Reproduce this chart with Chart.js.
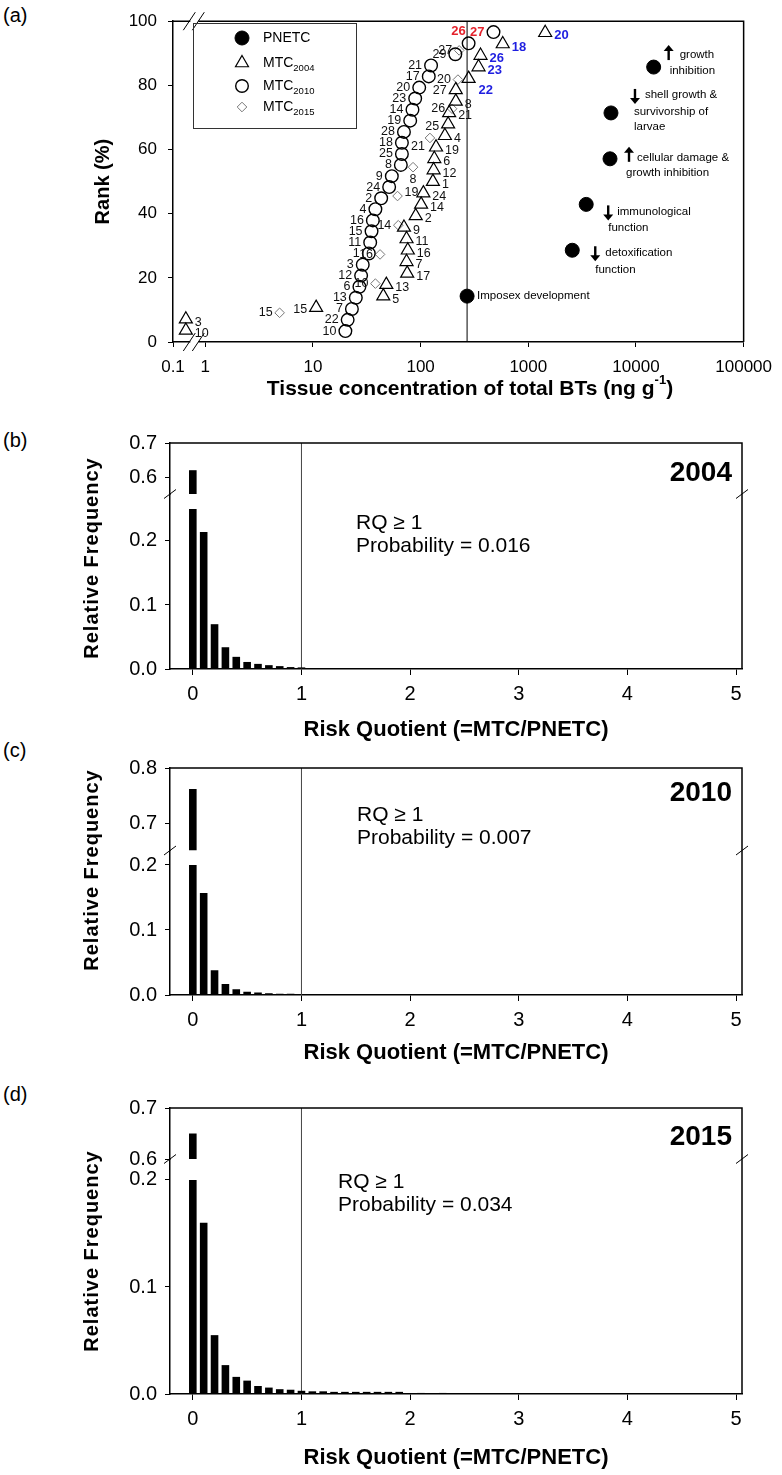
<!DOCTYPE html>
<html>
<head>
<meta charset="utf-8">
<script src="https://cdn.jsdelivr.net/npm/chart.js@4.4.0/dist/chart.umd.min.js"></script>
<style>
  body { margin: 0; background: #fff; }
  #wrap { position: relative; width: 782px; height: 1475px; }
  canvas { position: absolute; left: 0; }
  .tag { position: absolute; left: 3px; font: 20px "Liberation Sans", Arial, sans-serif; line-height: 20px; }
</style>
</head>
<body>
<div id="wrap">
  <div class="tag" style="top:5px">(a)</div>
  <div class="tag" style="top:430px">(b)</div>
  <div class="tag" style="top:740px">(c)</div>
  <div class="tag" style="top:1084px">(d)</div>
  <canvas id="cA" width="782" height="400" style="top:0px"></canvas>
  <canvas id="cB" width="782" height="340" style="top:405px"></canvas>
  <canvas id="cC" width="782" height="330" style="top:745px"></canvas>
  <canvas id="cD" width="782" height="400" style="top:1075px"></canvas>
</div>
<script>
// ***************************************************
// Data : panel (a) species sensitivity / site ranks
// ***************************************************

var PNETC_MIN = 270;

var pnetcConc = [270, 2560, 3450, 5740, 5860, 14600];
var pnetcRank = [14.3, 28.6, 42.9, 57.1, 71.4, 85.7];
var pnetcEffect = [
  ['Imposex development'],
  ['detoxification', 'function'],
  ['immunological', 'function'],
  ['cellular damage &', 'growth inhibition'],
  ['shell growth &', 'survivorship of', 'larvae'],
  ['growth', 'inhibition']
];
var pnetcTrend = ['', 'down', 'down', 'up', 'down', 'up'];

var conc2004 = [0.25, 0.25, 10.7, 45, 48, 75, 74, 76, 74, 70, 90, 101, 106, 130, 132, 134, 139, 168, 180, 184, 212, 212, 279, 345, 360, 579, 1435];
var rank2004 = [3.6, 7.1, 10.7, 14.3, 17.9, 21.4, 25.0, 28.6, 32.1, 35.7, 39.3, 42.9, 46.4, 50.0, 53.6, 57.1, 60.7, 64.3, 67.9, 71.4, 75.0, 78.6, 82.1, 85.7, 89.3, 92.9, 96.4];
var site2004 = ['10','3','15','5','13','17','7','16','11','9','2','14','24','1','12','6','19','4','25','21','8','27','22','23','26','18','20'];

var conc2010 = [20, 21, 23, 25, 27, 28, 29, 33, 34, 35, 36, 38, 43, 51, 54, 65.5, 67, 67, 70, 80, 84, 89, 97, 119, 125, 210, 279, 475];
var rank2010 = [3.4, 6.9, 10.3, 13.8, 17.2, 20.7, 24.1, 27.6, 31.0, 34.5, 37.9, 41.4, 44.8, 48.3, 51.7, 55.2, 58.6, 62.1, 65.5, 69.0, 72.4, 75.9, 79.3, 82.8, 86.2, 89.7, 93.1, 96.6];
var site2010 = ['10','22','7','13','6','12','3','1','11','15','16','4','2','24','9','8','25','18','28','19','14','23','20','17','21','29','26','27'];

var conc2015 = [4.9, 38, 42, 62, 61, 85, 122, 196, 222, 228];
var rank2015 = [9.1, 18.2, 27.3, 36.4, 45.5, 54.5, 63.6, 72.7, 81.8, 90.9];
var site2015 = ['15','10','16','14','19','8','21','26','20','27'];

var concTicks = [0.1, 1, 10, 100, 1000, 10000, 100000];

// ***************************************************
// Data : panels (b)-(d) risk quotient histograms
// ***************************************************

var bins2004 = [0, 0.1, 0.2, 0.3, 0.4, 0.5, 0.6, 0.7, 0.8, 0.9, 1.0, 1.1, 1.2, 1.3, 1.4];
var freq2004 = [0.62, 0.214, 0.07, 0.034, 0.019, 0.011, 0.008, 0.006, 0.0045, 0.003, 0.0025, 0.0015, 0.0012, 0.001, 0.001];

var bins2010 = [0, 0.1, 0.2, 0.3, 0.4, 0.5, 0.6, 0.7, 0.8, 0.9];
var freq2010 = [0.762, 0.157, 0.038, 0.017, 0.009, 0.005, 0.004, 0.0025, 0.002, 0.002];

var bins2015 = [0, 0.1, 0.2, 0.3, 0.4, 0.5, 0.6, 0.7, 0.8, 0.9, 1.0, 1.1, 1.2, 1.3, 1.4, 1.5, 1.6, 1.7, 1.8, 1.9, 2.0, 2.1, 2.2, 2.3];
var freq2015 = [0.65, 0.16, 0.055, 0.027, 0.016, 0.0125, 0.0075, 0.006, 0.0045, 0.004, 0.003, 0.0025, 0.0025, 0.002, 0.002, 0.002, 0.002, 0.002, 0.002, 0.002, 0, 0.001, 0, 0.001];

var rqTicks = [0, 1, 2, 3, 4, 5];

var FONT = '"Liberation Sans", Arial, sans-serif';

// ***************************************************
// Utility methods
// ***************************************************

// broken log axis: 0.1 .. 1 is squeezed into 0.3 decade
function lg(v) {
  return v < 1 ? -0.3 + 0.3 * (Math.log10(v) + 1) : Math.log10(v);
}

function pts(xs, ys) {
  return xs.map(function(x, i) { return {x: lg(x), y: ys[i]}; });
}

function drawArrow(ctx, x, y, dir) {
  var s = dir === 'up' ? -1 : 1;
  ctx.save();
  ctx.strokeStyle = '#000'; ctx.fillStyle = '#000'; ctx.lineWidth = 2.4;
  ctx.beginPath(); ctx.moveTo(x, y - 7 * s); ctx.lineTo(x, y + 3 * s); ctx.stroke();
  ctx.beginPath(); ctx.moveTo(x - 5, y + 2 * s); ctx.lineTo(x + 5, y + 2 * s); ctx.lineTo(x, y + 8 * s); ctx.closePath(); ctx.fill();
  ctx.restore();
}

function slash(ctx, x, y, w, h) {
  ctx.beginPath(); ctx.moveTo(x - w / 2, y + h / 2); ctx.lineTo(x + w / 2, y - h / 2); ctx.stroke();
}

// ***************************************************
// Panel (a)
// ***************************************************

var labelSpot = {
  tri: {2: [-9, 2, 'right'], 18: [-9, 2, 'right'], 21: [-9, 1, 'right'], 22: [10, 12, 'left']},
  circ: {26: [-3, -12, 'right']},
  dia: {4: [7, -3, 'left'], 5: [0, 12, 'center'], 6: [-5, 9, 'right']}
};
var labelDefault = {tri: [9, 3, 'left'], circ: [-9, 0, 'right'], dia: [-7, 0, 'right']};

var effectLayout = [
  {arrow: null, lines: [[10, 0]]},
  {arrow: [23, 3], lines: [[33, 3], [23, 20]]},
  {arrow: [22, 8], lines: [[31, 7], [22, 23]]},
  {arrow: [19, -4], lines: [[27, -1], [16, 14]]},
  {arrow: [24, -17], lines: [[34, -18], [23, -1], [23, 14]]},
  {arrow: [15, -14], lines: [[26, -12], [16, 4]]}
];

var panelA = {
  id: 'panelA',
  beforeDatasetsDraw: function(chart) {
    var ctx = chart.ctx, a = chart.chartArea;
    var x = chart.scales.x.getPixelForValue(lg(PNETC_MIN));
    ctx.save();
    ctx.strokeStyle = '#000'; ctx.lineWidth = 1;
    ctx.beginPath(); ctx.moveTo(x, a.top); ctx.lineTo(x, a.bottom); ctx.stroke();
    ctx.restore();
  },
  afterDraw: function(chart) {
    var ctx = chart.ctx, a = chart.chartArea;
    ctx.save();
    // frame
    ctx.strokeStyle = '#000'; ctx.lineWidth = 1.5;
    ctx.beginPath(); ctx.moveTo(a.left, a.top); ctx.lineTo(a.right, a.top); ctx.lineTo(a.right, a.bottom); ctx.stroke();

    // axis breaks between 0.1 and 1
    var bx = chart.scales.x.getPixelForValue(-0.13);
    [a.top, a.bottom].forEach(function(y) {
      ctx.fillStyle = '#fff'; ctx.fillRect(bx - 1, y - 2, 8, 4);
      ctx.strokeStyle = '#000'; ctx.lineWidth = 1;
      slash(ctx, bx - 2, y, 12, 18); slash(ctx, bx + 7, y, 12, 18);
    });

    // point labels
    var sets = [[1, 'tri', site2004, conc2004], [2, 'circ', site2010, conc2010], [3, 'dia', site2015, conc2015]];
    sets.forEach(function(s) {
      var meta = chart.getDatasetMeta(s[0]);
      meta.data.forEach(function(p, i) {
        var spot = labelSpot[s[1]][i] || labelDefault[s[1]];
        var hot = s[3][i] > PNETC_MIN && s[1] !== 'dia';
        ctx.font = (hot ? 'bold 13px ' : '12.5px ') + FONT;
        ctx.fillStyle = hot ? (s[1] === 'circ' ? '#e4222c' : '#1f1fe0') : '#111';
        ctx.textAlign = spot[2]; ctx.textBaseline = 'middle';
        ctx.fillText(s[2][i], p.x + spot[0], p.y + spot[1]);
      });
    });

    // effect annotations next to PNETC points
    var pm = chart.getDatasetMeta(0);
    ctx.font = '11.5px ' + FONT; ctx.fillStyle = '#000'; ctx.textAlign = 'left'; ctx.textBaseline = 'middle';
    pm.data.forEach(function(p, i) {
      var lay = effectLayout[i];
      if (lay.arrow) drawArrow(ctx, p.x + lay.arrow[0], p.y + lay.arrow[1], pnetcTrend[i]);
      pnetcEffect[i].forEach(function(t, j) {
        ctx.fillText(t, p.x + lay.lines[j][0], p.y + lay.lines[j][1]);
      });
    });

    // legend
    var lx = 193, ly = 23;
    ctx.strokeStyle = '#333'; ctx.lineWidth = 1;
    ctx.strokeRect(lx + 0.5, ly + 0.5, 163, 105);
    var rows = [['PNETC', ''], ['MTC', '2004'], ['MTC', '2010'], ['MTC', '2015']];
    var rowY = [38, 63, 86, 107];
    rows.forEach(function(r, i) {
      var ds = chart.data.datasets[i];
      ctx.fillStyle = ds.backgroundColor; ctx.strokeStyle = ds.borderColor; ctx.lineWidth = ds.borderWidth;
      Chart.helpers.drawPoint(ctx, {pointStyle: ds.pointStyle, radius: ds.pointRadius, rotation: 0, borderWidth: ds.borderWidth}, 242, rowY[i]);
      ctx.fillStyle = '#000'; ctx.font = '14px ' + FONT; ctx.textAlign = 'left'; ctx.textBaseline = 'middle';
      ctx.fillText(r[0], 263, rowY[i]);
      if (r[1]) {
        var w = ctx.measureText(r[0]).width;
        ctx.font = '9.5px ' + FONT;
        ctx.fillText(r[1], 263 + w, rowY[i] + 5);
      }
    });

    // axis titles
    ctx.fillStyle = '#000'; ctx.textBaseline = 'middle';
    ctx.save();
    ctx.translate(103, (a.top + a.bottom) / 2); ctx.rotate(-Math.PI / 2);
    ctx.font = 'bold 20px ' + FONT; ctx.textAlign = 'center';
    ctx.fillText('Rank (%)', 0, 0);
    ctx.restore();

    var main = 'Tissue concentration of total BTs (ng g', sup = '-1';
    ctx.font = 'bold 21px ' + FONT;
    var w1 = ctx.measureText(main).width, w3 = ctx.measureText(')').width;
    ctx.font = 'bold 13px ' + FONT;
    var w2 = ctx.measureText(sup).width;
    var x0 = 470 - (w1 + w2 + w3) / 2, ty = 389;
    ctx.textAlign = 'left';
    ctx.font = 'bold 21px ' + FONT; ctx.fillText(main, x0, ty);
    ctx.font = 'bold 13px ' + FONT; ctx.fillText(sup, x0 + w1, ty - 9);
    ctx.font = 'bold 21px ' + FONT; ctx.fillText(')', x0 + w1 + w2, ty);
    ctx.restore();
  }
};

new Chart(document.getElementById('cA'), {
  type: 'scatter',
  data: {
    datasets: [
      {label: 'PNETC', data: pts(pnetcConc, pnetcRank), pointStyle: 'circle', pointRadius: 7, backgroundColor: '#000', borderColor: '#000', borderWidth: 1},
      {label: 'MTC2004', data: pts(conc2004, rank2004), pointStyle: 'triangle', pointRadius: 7.5, backgroundColor: 'rgba(255,255,255,0)', borderColor: '#000', borderWidth: 1.2},
      {label: 'MTC2010', data: pts(conc2010, rank2010), pointStyle: 'circle', pointRadius: 6.3, backgroundColor: 'rgba(255,255,255,0)', borderColor: '#000', borderWidth: 1.4},
      {label: 'MTC2015', data: pts(conc2015, rank2015), pointStyle: 'rectRot', pointRadius: 4.8, backgroundColor: 'rgba(255,255,255,0)', borderColor: '#777', borderWidth: 1}
    ]
  },
  options: {
    responsive: false, animation: false,
    layout: {padding: {left: 0, right: 36, top: 10, bottom: 8}},
    plugins: {legend: {display: false}, tooltip: {enabled: false}},
    scales: {
      x: {
        type: 'linear', min: -0.3, max: 5,
        afterBuildTicks: function(s) { s.ticks = concTicks.map(function(v) { return {value: lg(v)}; }); },
        afterFit: function(s) { s.height = 50; },
        ticks: {
          autoSkip: false, maxRotation: 0, padding: 10, color: '#000', font: {family: FONT, size: 17},
          callback: function(v, i) { return String(concTicks[i]); }
        },
        grid: {drawOnChartArea: false, tickLength: 5, color: '#000'},
        border: {display: true, color: '#000', width: 1.5}
      },
      y: {
        min: 0, max: 100,
        afterBuildTicks: function(s) { s.ticks = [0, 20, 40, 60, 80, 100].map(function(v) { return {value: v}; }); },
        afterFit: function(s) { s.width = 173; },
        ticks: {padding: 11, color: '#000', font: {family: FONT, size: 17}},
        grid: {drawOnChartArea: false, tickLength: 5, color: '#000'},
        border: {display: true, color: '#000', width: 1.5}
      }
    }
  },
  plugins: [panelA]
});

// ***************************************************
// Panels (b)-(d)
// ***************************************************

var brokenFrame = {
  id: 'brokenFrame',
  beforeDatasetsDraw: function(chart) {
    var ctx = chart.ctx, a = chart.chartArea, x = chart.scales.x.getPixelForValue(1);
    ctx.save();
    ctx.strokeStyle = '#444'; ctx.lineWidth = 1;
    ctx.beginPath(); ctx.moveTo(x, a.top); ctx.lineTo(x, a.bottom); ctx.stroke();
    ctx.restore();
  },
  afterDraw: function(chart) {
    var ctx = chart.ctx, a = chart.chartArea, o = chart.options.plugins.brokenFrame;
    var g0 = chart.scales.yTop.bottom, g1 = chart.scales.yBot.getPixelForValue(o.cut);
    ctx.save();
    ctx.strokeStyle = '#000'; ctx.lineWidth = 1.5;
    ctx.beginPath();
    ctx.moveTo(a.left, a.top); ctx.lineTo(a.right, a.top); ctx.lineTo(a.right, g0);
    ctx.moveTo(a.right, g1); ctx.lineTo(a.right, a.bottom);
    ctx.stroke();
    ctx.fillStyle = '#fff';
    ctx.fillRect(a.left - 2, g0 + 1, 4, g1 - g0 - 2);
    ctx.lineWidth = 1;
    [a.left, a.right].forEach(function(x) {
      slash(ctx, x, g0, 12, 9); slash(ctx, x, g1, 12, 9);
    });

    // texts
    ctx.fillStyle = '#000'; ctx.textBaseline = 'middle';
    ctx.font = 'bold 28px ' + FONT; ctx.textAlign = 'right';
    ctx.fillText(o.year, a.right - 10, o.yearY);
    ctx.font = '21px ' + FONT; ctx.textAlign = 'left';
    ctx.fillText('RQ \u2265 1', o.noteX, o.noteY);
    ctx.fillText('Probability = ' + o.prob, o.noteX, o.noteY + 23);

    ctx.font = 'bold 22px ' + FONT; ctx.textAlign = 'center';
    ctx.fillText('Risk Quotient (=MTC/PNETC)', 456, o.titleY);

    ctx.save();
    ctx.translate(92, o.ylabY); ctx.rotate(-Math.PI / 2);
    ctx.font = 'bold 20px ' + FONT; ctx.textAlign = 'center';
    if ('letterSpacing' in ctx) ctx.letterSpacing = '1px';
    ctx.fillText('Relative Frequency', 0, 0);
    ctx.restore();
    ctx.restore();
  }
};

function histogram(id, bins, freq, seg, opt) {
  var low = bins.map(function(b, i) { return {x: b, y: [0, Math.min(freq[i], seg.cut)]}; });
  var high = [];
  bins.forEach(function(b, i) { if (freq[i] > seg.topMin) high.push({x: b, y: [seg.topMin, freq[i]]}); });
  var yAxis = function(min, max, ticks, weight, stackWeight) {
    return {
      type: 'linear', position: 'left', stack: 'rf', weight: weight, stackWeight: stackWeight,
      min: min, max: max,
      afterBuildTicks: function(s) { s.ticks = ticks.map(function(v) { return {value: v}; }); },
      afterFit: function(s) { s.width = 170; },
      ticks: {padding: 8, color: '#000', font: {family: FONT, size: 20}, callback: function(v) { return v.toFixed(1); }},
      grid: {drawOnChartArea: false, tickLength: 5, color: '#000'},
      border: {display: true, color: '#000', width: 1.5}
    };
  };
  return new Chart(document.getElementById(id), {
    type: 'bar',
    data: {
      datasets: [
        {data: low, yAxisID: 'yBot', backgroundColor: '#000', grouped: false, barPercentage: 0.7, categoryPercentage: 1},
        {data: high, yAxisID: 'yTop', backgroundColor: '#000', grouped: false, barPercentage: 0.7, categoryPercentage: 1}
      ]
    },
    options: {
      responsive: false, animation: false,
      layout: {padding: opt.padding},
      plugins: {legend: {display: false}, tooltip: {enabled: false}, brokenFrame: opt},
      scales: {
        x: {
          type: 'linear', min: -0.21, max: 5.055, offset: false,
          afterBuildTicks: function(s) { s.ticks = rqTicks.map(function(v) { return {value: v}; }); },
          afterFit: function(s) { s.height = 40; },
          ticks: {autoSkip: false, maxRotation: 0, padding: 7, color: '#000', font: {family: FONT, size: 20}},
          grid: {offset: false, drawOnChartArea: false, tickLength: 6, color: '#000'},
          border: {display: true, color: '#000', width: 1.5}
        },
        yTop: yAxis(seg.topMin, seg.topMax, seg.topTicks, 2, seg.topPx),
        yBot: yAxis(0, seg.botMax, seg.botTicks, 1, seg.botPx)
      }
    },
    plugins: [brokenFrame]
  });
}

// (b) 2004 : chart area 443..669 (canvas top 405)
histogram('cB', bins2004, freq2004,
  {topMin: 0.55, topMax: 0.7, topTicks: [0.6, 0.7], cut: 0.25, botMax: 0.2734, botTicks: [0, 0.1, 0.2], topPx: 51, botPx: 175},
  {padding: {left: 0, right: 40, top: 38, bottom: 36}, year: '2004', yearY: 68, noteX: 356, noteY: 118, prob: '0.016', titleY: 325, ylabY: 153});

// (c) 2010 : chart area 768..995 (canvas top 745)
histogram('cC', bins2010, freq2010,
  {topMin: 0.65, topMax: 0.8, topTicks: [0.7, 0.8], cut: 0.2, botMax: 0.2223, botTicks: [0, 0.1, 0.2], topPx: 82.5, botPx: 144.5},
  {padding: {left: 0, right: 40, top: 23, bottom: 40}, year: '2010', yearY: 48, noteX: 357, noteY: 70, prob: '0.007', titleY: 308, ylabY: 125});

// (d) 2015 : chart area 1108..1394 (canvas top 1075)
histogram('cD', bins2015, freq2015,
  {topMin: 0.6, topMax: 0.7, topTicks: [0.6, 0.7], cut: 0.2, botMax: 0.2196, botTicks: [0, 0.1, 0.2], topPx: 51, botPx: 235},
  {padding: {left: 0, right: 40, top: 33, bottom: 41}, year: '2015', yearY: 62, noteX: 338, noteY: 107, prob: '0.034', titleY: 383, ylabY: 176});
</script>
</body>
</html>
